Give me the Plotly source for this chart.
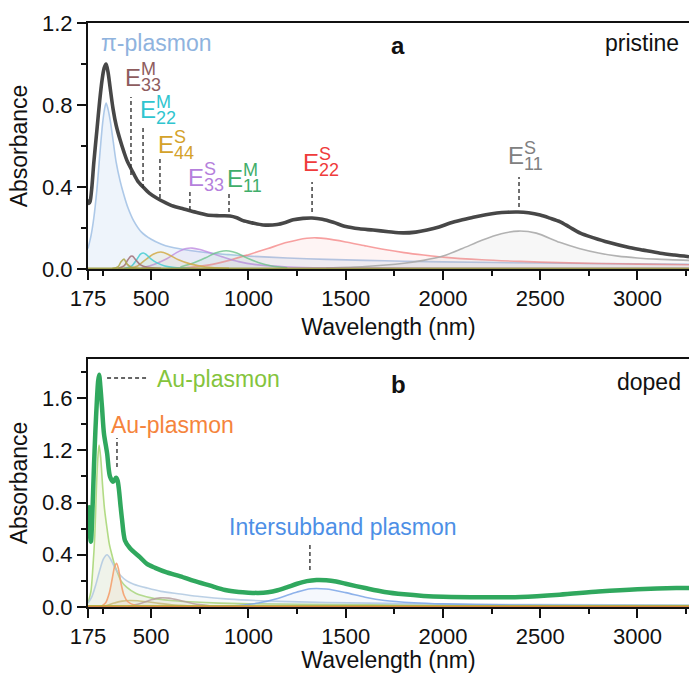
import plotly.graph_objects as go

# ---------------- Panel a (pristine) data ----------------
a_total_wl = [175, 180, 186, 195, 205, 221, 235, 247, 258, 268, 278, 288, 304, 320, 340, 360, 375, 407,
              430, 458, 490, 530, 570, 612, 660, 700, 750, 787, 850, 905, 940, 972, 1020, 1075, 1147,
              1190, 1230, 1280, 1327, 1380, 1436, 1500, 1570, 1641, 1720, 1795, 1860, 1918, 1980, 2037,
              2100, 2156, 2220, 2277, 2330, 2386, 2440, 2500, 2550, 2603, 2650, 2706, 2775, 2850, 2947,
              3030, 3117, 3190, 3265]
a_total_A = [0.34, 0.32, 0.33, 0.40, 0.52, 0.68, 0.82, 0.92, 0.98, 1.00, 0.96, 0.89, 0.78, 0.70, 0.63,
             0.57, 0.53, 0.47, 0.43, 0.40, 0.37, 0.345, 0.325, 0.307, 0.295, 0.284, 0.272, 0.263, 0.26,
             0.259, 0.25, 0.236, 0.225, 0.215, 0.217, 0.227, 0.24, 0.247, 0.249, 0.243, 0.228, 0.207,
             0.196, 0.19, 0.182, 0.176, 0.18, 0.19, 0.205, 0.224, 0.24, 0.253, 0.265, 0.273, 0.277,
             0.278, 0.274, 0.263, 0.248, 0.23, 0.205, 0.175, 0.152, 0.13, 0.107, 0.092, 0.077, 0.068,
             0.06]

pi_wl = [175, 190, 205, 220, 235, 250, 260, 268, 278, 290, 305, 320, 340, 360, 380, 410, 450, 500, 550,
         600, 700, 800, 900, 1000, 1200, 1400, 1600, 1800, 2000, 2500, 3000, 3265]
pi_A = [0.10, 0.16, 0.25, 0.38, 0.55, 0.71, 0.78, 0.81, 0.78, 0.72, 0.62, 0.52, 0.43, 0.36, 0.30, 0.235,
        0.18, 0.145, 0.122, 0.107, 0.09, 0.078, 0.07, 0.063, 0.054, 0.047, 0.042, 0.038, 0.035, 0.029,
        0.025, 0.023]

olive_wl = [300, 330, 345, 360, 375, 395, 430, 500]
olive_A = [0.002, 0.012, 0.035, 0.048, 0.025, 0.01, 0.004, 0.002]

e33m_wl = [330, 360, 380, 395, 405, 420, 445, 480, 550]
e33m_A = [0.003, 0.015, 0.045, 0.062, 0.062, 0.045, 0.02, 0.008, 0.003]

e22m_wl = [360, 400, 425, 445, 460, 475, 500, 530, 570, 620, 700]
e22m_A = [0.002, 0.015, 0.045, 0.072, 0.078, 0.07, 0.048, 0.03, 0.015, 0.007, 0.003]

e44s_wl = [380, 430, 470, 510, 550, 590, 640, 700, 780, 900]
e44s_A = [0.002, 0.015, 0.045, 0.072, 0.083, 0.07, 0.045, 0.025, 0.01, 0.004]

e33s_wl = [450, 520, 580, 630, 680, 710, 750, 800, 870, 950, 1050, 1200, 1400, 2000, 3265]
e33s_A = [0.005, 0.025, 0.05, 0.08, 0.1, 0.102, 0.095, 0.08, 0.058, 0.036, 0.02, 0.01, 0.006, 0.004, 0.003]

e11m_wl = [650, 720, 780, 830, 870, 900, 940, 990, 1050, 1120, 1200]
e11m_A = [0.01, 0.03, 0.055, 0.078, 0.088, 0.088, 0.078, 0.055, 0.032, 0.015, 0.006]

e22s_wl = [600, 700, 800, 900, 1000, 1100, 1200, 1300, 1350, 1400, 1500, 1600, 1700, 1800, 1900, 2000,
           2200, 2400, 2600, 2800, 3000, 3265]
e22s_A = [0.003, 0.008, 0.02, 0.042, 0.07, 0.1, 0.13, 0.15, 0.152, 0.148, 0.132, 0.113, 0.095, 0.08,
          0.068, 0.058, 0.045, 0.037, 0.031, 0.027, 0.024, 0.021]

e11s_wl = [1400, 1600, 1800, 1900, 2000, 2100, 2200, 2300, 2390, 2480, 2600, 2700, 2800, 2900, 3000,
           3100, 3265]
e11s_A = [0.005, 0.012, 0.028, 0.042, 0.063, 0.1, 0.14, 0.172, 0.185, 0.175, 0.13, 0.1, 0.078, 0.063,
          0.054, 0.048, 0.042]

a_base_wl = [175, 3265]
a_base_A = [0.004, 0.004]

# ---------------- Panel b (doped) data ----------------
b_total_wl = [175, 182, 190, 197, 205, 213, 221, 227, 232, 238, 247, 257, 273, 288, 304, 312, 319, 327,
              334, 342, 350, 365, 391, 443, 478, 520, 580, 650, 720, 800, 880, 950, 1000, 1050, 1100,
              1150, 1200, 1250, 1300, 1350, 1400, 1450, 1500, 1600, 1700, 1800, 1900, 2000, 2200, 2400,
              2600, 2800, 3000, 3200, 3265]
b_total_A = [0.78, 0.60, 0.50, 0.70, 1.05, 1.35, 1.59, 1.73, 1.78, 1.70, 1.53, 1.33, 1.18, 1.00, 0.96,
             0.975, 0.99, 0.97, 0.90, 0.78, 0.67, 0.51, 0.45, 0.38, 0.33, 0.30, 0.265, 0.235, 0.2,
             0.165, 0.13, 0.115, 0.11, 0.108, 0.113, 0.128, 0.152, 0.178, 0.198, 0.207, 0.205, 0.195,
             0.178, 0.145, 0.115, 0.097, 0.085, 0.078, 0.074, 0.077, 0.094, 0.118, 0.136, 0.145, 0.145]

au1_wl = [175, 190, 200, 210, 218, 225, 232, 240, 250, 260, 273, 285, 298, 310, 325, 345, 375, 420, 500,
          600, 700, 850, 1000, 1500, 2000, 3265]
au1_A = [0.03, 0.12, 0.3, 0.55, 0.9, 1.13, 1.24, 1.15, 0.93, 0.75, 0.6, 0.48, 0.4, 0.33, 0.27, 0.2, 0.15,
         0.105, 0.07, 0.05, 0.04, 0.03, 0.025, 0.018, 0.015, 0.012]

bb_wl = [175, 195, 215, 235, 255, 273, 290, 310, 340, 375, 410, 480, 550, 650, 750, 900, 1100, 1400,
         1800, 2500, 3265]
bb_A = [0.03, 0.08, 0.17, 0.28, 0.37, 0.40, 0.37, 0.31, 0.245, 0.2, 0.175, 0.145, 0.12, 0.1, 0.08, 0.06,
        0.046, 0.035, 0.026, 0.018, 0.014]

au2_wl = [240, 265, 285, 300, 312, 322, 332, 345, 360, 380, 420, 500, 3265]
au2_A = [0.003, 0.03, 0.11, 0.22, 0.31, 0.335, 0.29, 0.18, 0.09, 0.04, 0.012, 0.005, 0.003]

tan_wl = [230, 270, 310, 350, 390, 430, 480, 540, 620, 750]
tan_A = [0.003, 0.012, 0.03, 0.045, 0.05, 0.048, 0.04, 0.028, 0.015, 0.005]

mauve_wl = [380, 440, 500, 545, 590, 650, 720, 800]
mauve_A = [0.005, 0.025, 0.055, 0.07, 0.068, 0.05, 0.025, 0.01]

isb_wl = [800, 950, 1050, 1150, 1250, 1320, 1400, 1500, 1600, 1700, 1850, 2000, 2300, 2700, 3265]
isb_A = [0.003, 0.012, 0.03, 0.065, 0.115, 0.14, 0.138, 0.11, 0.075, 0.05, 0.033, 0.024, 0.016, 0.012,
         0.01]

b_base_wl = [175, 3265]
b_base_orange = [0.004, 0.004]
b_base_olive = [0.009, 0.009]

# ticks
x_major = [175, 500, 1000, 1500, 2000, 2500, 3000]
x_minor = [250, 750, 1250, 1750, 2250, 2750, 3250]
ya_major = [0.0, 0.4, 0.8, 1.2]
ya_minor = [0.2, 0.6, 1.0]
yb_major = [0.0, 0.4, 0.8, 1.2, 1.6]
yb_minor = [0.2, 0.6, 1.0, 1.4, 1.8]

# ---------------- figure ----------------
W, H = 689, 673
L, R, T, B = 88, 0, 23, 66
PW, PH = W - L - R, H - T - B
FONT = "Arial, Liberation Sans, Helvetica, sans-serif"


def px(xp, yp):
    return (xp - L) / PW, (H - B - yp) / PH


fig = go.Figure()


def comp(x, y, color, fill, xa, ya, width=1.6):
    fig.add_trace(go.Scatter(x=x, y=y, mode="lines", xaxis=xa, yaxis=ya,
                             line=dict(color=color, width=width, shape="spline", smoothing=0.8),
                             fill="tozeroy", fillcolor=fill, showlegend=False, hoverinfo="skip"))


# panel a components
comp(pi_wl, pi_A, "rgba(160,192,228,0.85)", "rgba(200,220,242,0.30)", "x", "y")
comp(e22s_wl, e22s_A, "rgba(244,130,130,0.75)", "rgba(244,150,150,0.10)", "x", "y")
comp(e11s_wl, e11s_A, "rgba(170,170,170,0.9)", "rgba(190,190,190,0.12)", "x", "y")
comp(e33s_wl, e33s_A, "rgba(190,140,225,0.8)", "rgba(200,160,230,0.10)", "x", "y")
comp(e11m_wl, e11m_A, "rgba(110,195,140,0.8)", "rgba(120,200,150,0.08)", "x", "y")
comp(e44s_wl, e44s_A, "rgba(210,170,70,0.85)", "rgba(220,190,100,0.10)", "x", "y")
comp(e22m_wl, e22m_A, "rgba(70,205,210,0.85)", "rgba(90,210,215,0.08)", "x", "y")
comp(e33m_wl, e33m_A, "rgba(160,110,120,0.85)", "rgba(170,130,140,0.08)", "x", "y")
comp(olive_wl, olive_A, "rgba(175,170,80,0.9)", "rgba(180,175,90,0.08)", "x", "y")
fig.add_trace(go.Scatter(x=a_base_wl, y=a_base_A, mode="lines", xaxis="x", yaxis="y",
                         line=dict(color="rgba(150,150,60,0.9)", width=1.5), showlegend=False))
fig.add_trace(go.Scatter(x=a_total_wl, y=a_total_A, mode="lines", xaxis="x", yaxis="y",
                         line=dict(color="#474747", width=3.6, shape="spline", smoothing=0.8),
                         showlegend=False))

# panel b components
comp(au1_wl, au1_A, "rgba(170,215,120,0.9)", "rgba(200,215,150,0.18)", "x2", "y2")
comp(bb_wl, bb_A, "rgba(175,200,225,0.85)", "rgba(200,210,225,0.12)", "x2", "y2")
comp(tan_wl, tan_A, "rgba(200,190,120,0.85)", "rgba(210,200,140,0.10)", "x2", "y2")
comp(mauve_wl, mauve_A, "rgba(180,155,155,0.8)", "rgba(190,170,170,0.08)", "x2", "y2")
comp(au2_wl, au2_A, "rgba(244,160,110,0.9)", "rgba(244,180,140,0.10)", "x2", "y2")
comp(isb_wl, isb_A, "rgba(130,170,232,0.9)", "rgba(160,190,235,0.10)", "x2", "y2")
fig.add_trace(go.Scatter(x=b_base_wl, y=b_base_olive, mode="lines", xaxis="x2", yaxis="y2",
                         line=dict(color="rgba(170,190,60,0.9)", width=1.5), showlegend=False))
fig.add_trace(go.Scatter(x=b_base_wl, y=b_base_orange, mode="lines", xaxis="x2", yaxis="y2",
                         line=dict(color="rgba(220,130,60,0.9)", width=1.5), showlegend=False))
fig.add_trace(go.Scatter(x=b_total_wl, y=b_total_A, mode="lines", xaxis="x2", yaxis="y2",
                         line=dict(color="#30a85e", width=4.5, shape="spline", smoothing=0.8),
                         showlegend=False))

tickfont = dict(family=FONT, size=22, color="#111")
titlefont = dict(family=FONT, size=23, color="#111")


def xaxis_cfg(anchor):
    return dict(range=[175, 3265], anchor=anchor, tickmode="array", tickvals=x_major,
                ticks="outside", ticklen=9, tickwidth=1.8, tickcolor="#111",
                showline=True, linewidth=2, linecolor="#111", mirror=True,
                showgrid=False, zeroline=False, tickfont=tickfont,
                title=dict(text="Wavelength (nm)", font=titlefont, standoff=8),
                minor=dict(tickvals=x_minor, ticks="outside", ticklen=5, tickwidth=1.8,
                           tickcolor="#111", showgrid=False))


def yaxis_cfg(anchor, rng, major, minor, domain):
    return dict(range=rng, anchor=anchor, domain=domain, tickmode="array", tickvals=major,
                tickformat=".1f", ticks="outside", ticklen=9, tickwidth=1.8, tickcolor="#111",
                showline=True, linewidth=2, linecolor="#111", mirror=False,
                showgrid=False, zeroline=False, tickfont=tickfont,
                title=dict(text="Absorbance", font=titlefont, standoff=8),
                minor=dict(tickvals=minor, ticks="outside", ticklen=5, tickwidth=1.8,
                           tickcolor="#111", showgrid=False))


ya_dom = [px(0, 269)[1], 1.0]
yb_dom = [0.0, px(0, 359)[1]]

fig.update_layout(
    width=W, height=H, margin=dict(l=L, r=R, t=T, b=B),
    paper_bgcolor="white", plot_bgcolor="white",
    xaxis=xaxis_cfg("y"), yaxis=yaxis_cfg("x", [0, 1.2], ya_major, ya_minor, ya_dom),
    xaxis2=xaxis_cfg("y2"), yaxis2=yaxis_cfg("x2", [0, 1.9], yb_major, yb_minor, yb_dom),
    font=dict(family=FONT),
)

ann = []
shapes = []


def text(xp, yp, s, color, size=23, anchor="left", bold=False):
    x, y = px(xp, yp)
    if bold:
        s = "<b>" + s + "</b>"
    ann.append(dict(x=x, y=y, xref="paper", yref="paper", text=s, showarrow=False,
                    xanchor=anchor, yanchor="middle", font=dict(family=FONT, size=size, color=color)))


def elabel(xe, ye, sup, sub, color):
    # xe: left of "E", ye: vertical centre of "E" (pixels)
    text(xe - 2, ye, "E", color, size=24)
    text(xe + 14, ye - 8, sup, color, size=18)
    text(xe + 14, ye + 8, sub, color, size=18)


def vdash(xa, ya, wl, y0, y1):
    shapes.append(dict(type="line", xref=xa, yref=ya, x0=wl, x1=wl, y0=y0, y1=y1,
                       line=dict(color="#333", width=1.4, dash="4px,3px")))


# panel a labels
text(99, 43, "π-plasmon", "#8fb3de")
text(398, 45, "a", "#111", size=24, anchor="center", bold=True)
text(681, 43, "pristine", "#111", anchor="right")
elabel(125, 77, "M", "33", "#8e5c5e")
elabel(140, 110, "M", "22", "#2fc5cf")
elabel(158, 145, "S", "44", "#d4a22a")
elabel(188, 177, "S", "33", "#b57fdc")
elabel(227, 178, "M", "11", "#3fae6a")
elabel(303, 162, "S", "22", "#ef3b3b")
elabel(508, 156, "S", "11", "#808080")

vdash("x", "y", 396, 0.459, 0.839)
vdash("x", "y", 458, 0.395, 0.702)
vdash("x", "y", 545, 0.346, 0.541)
vdash("x", "y", 699, 0.288, 0.376)
vdash("x", "y", 900, 0.278, 0.371)
vdash("x", "y", 1327, 0.278, 0.424)
vdash("x", "y", 2391, 0.302, 0.449)

# panel b labels
text(155, 379, "Au-plasmon", "#84c43c")
text(109, 425, "Au-plasmon", "#f5843c")
text(227, 527, "Intersubband plasmon", "#4d8fe6")
text(398, 385, "b", "#111", size=24, anchor="center", bold=True)
text(683, 382, "doped", "#111", anchor="right")

shapes.append(dict(type="line", xref="x2", yref="y2", x0=273, x1=483, y0=1.755, y1=1.755,
                   line=dict(color="#333", width=1.4, dash="4px,3px")))
vdash("x2", "y2", 324, 1.073, 1.295)
vdash("x2", "y2", 1316, 0.284, 0.483)

fig.update_layout(annotations=ann, shapes=shapes)
fig.write_html("out.html")
